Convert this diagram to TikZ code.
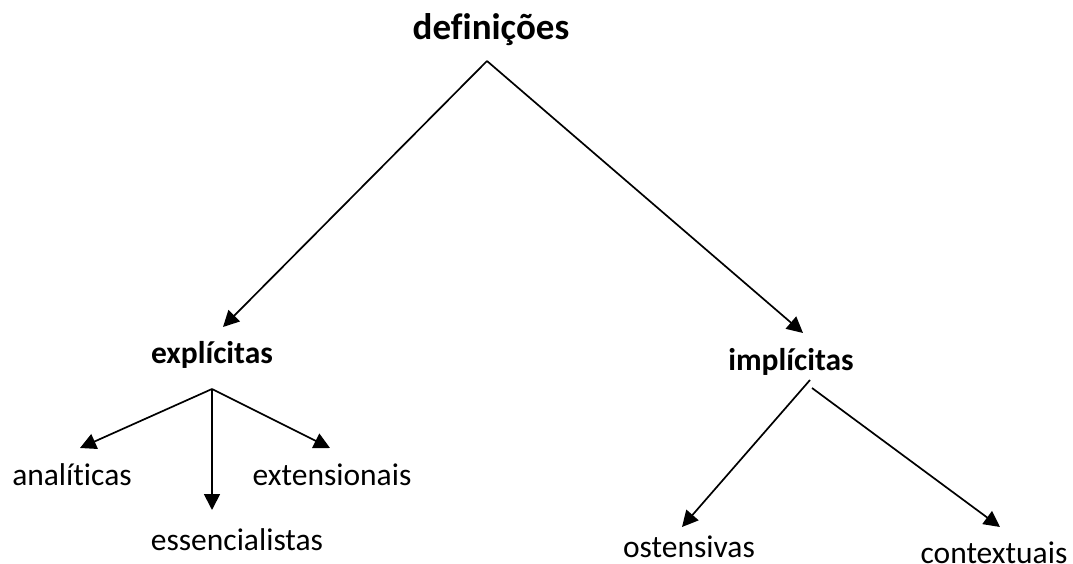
\documentclass[tikz,border=0pt]{standalone}
\usepackage{fontspec}
\setmainfont{Carlito}[Ligatures={NoCommon}]
\usetikzlibrary{arrows.meta}
\begin{document}
\begin{tikzpicture}[x=1pt,y=-1pt,
  lbl/.style={anchor=base, inner sep=0pt, font=\fontsize{31.5}{36}\selectfont},
  blbl/.style={lbl, font=\fontsize{31.5}{36}\selectfont\bfseries},
  conn/.style={line width=1.7pt, -{Triangle[length=16pt,width=16pt]}}]
\useasboundingbox (0,0) rectangle (1073,564);
% nodes
\node[blbl, font=\fontsize{37}{42}\selectfont\bfseries] (def) at (491,40) {definições};
\node[blbl] (expl) at (212,363) {explícitas};
\node[blbl] (impl) at (791,370) {implícitas};
\node[lbl] (anal) at (72,485) {analíticas};
\node[lbl] (ext) at (332,485) {extensionais};
\node[lbl] (ess) at (237,550) {essencialistas};
\node[lbl] (ost) at (689,557) {ostensivas};
\node[lbl] (ctx) at (994,563) {contextuais};
% connector ends
\coordinate (defo) at (487,61);
\coordinate (explT) at (223,327);
\coordinate (implT) at (803,333);
\coordinate (explo) at (212,389);
\coordinate (analT) at (80,448);
\coordinate (essT) at (212,510);
\coordinate (extT) at (330,448);
\coordinate (implo1) at (810,380);
\coordinate (implo2) at (812,388);
\coordinate (ostT) at (682,527);
\coordinate (ctxT) at (1000,527);
% connectors
\draw[conn] (defo) -- (explT);
\draw[conn] (defo) -- (implT);
\draw[conn] (explo) -- (analT);
\draw[conn] (explo) -- (essT);
\draw[conn] (explo) -- (extT);
\draw[conn] (implo1) -- (ostT);
\draw[conn] (implo2) -- (ctxT);
\end{tikzpicture}
\end{document}
